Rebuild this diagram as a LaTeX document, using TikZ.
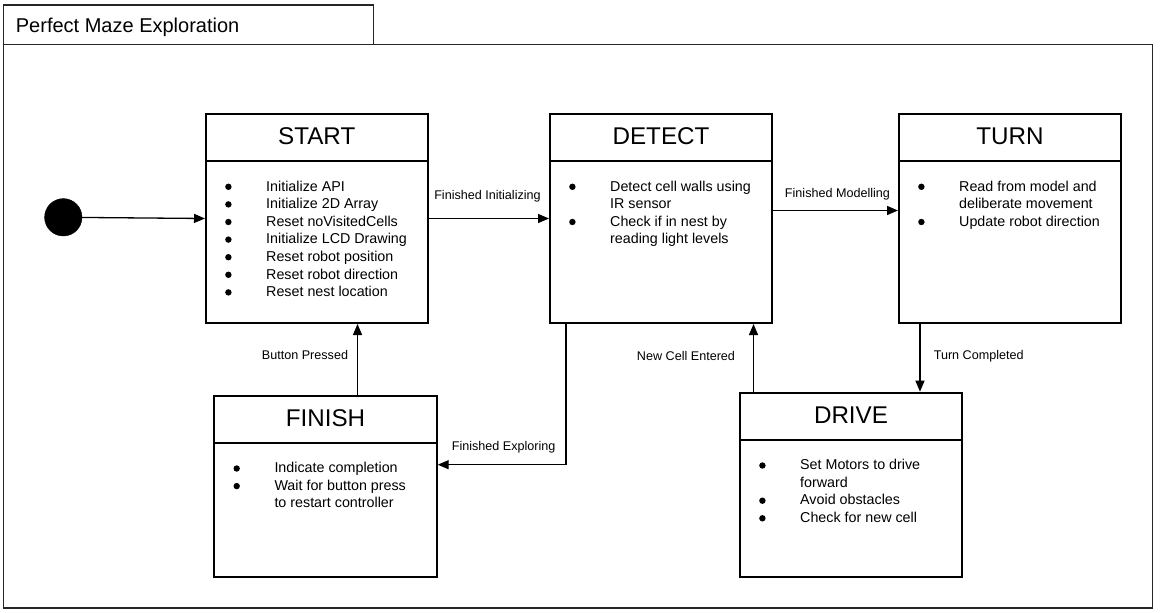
\documentclass[tikz,border=0pt]{standalone}
\usepackage{fontspec}
\setmainfont{Liberation Sans}
\usepackage{tikz}
\usetikzlibrary{arrows.meta}
\newcommand{\bul}{\tikz[baseline=-4.2pt]\fill[black] (3.2pt,0pt) circle[radius=3.2pt];}

\begin{document}
\begin{tikzpicture}[x=1pt,y=-1pt,
  statebox/.style={draw=black, line width=2pt, anchor=north west, inner sep=0pt},
  statetitle/.style={font=\fontsize{24.2}{29}\selectfont, inner sep=0pt},
  stateitems/.style={anchor=base west, inner sep=0pt, font=\fontsize{14.3}{17.6}\selectfont},
  translabel/.style={anchor=base, inner sep=0pt, font=\fontsize{12.6}{15}\selectfont},
  trans/.style={-{Triangle[length=11pt,width=9pt]}, line width=1.3pt}]
\useasboundingbox (0,0) rectangle (1160,613);
% frame
\draw[line width=1.6pt, black!85] (3.3,4.7) rectangle (373.3,44.3);
\draw[line width=1.6pt, black!85] (3.3,44.3) rectangle (1152.5,608);
\node[anchor=base west, inner sep=0pt, font=\fontsize{20}{24}\selectfont] (frametitle) at (15.7,32.3) {Perfect Maze Exploration};
% states
\node[statebox, minimum width=221.5pt, minimum height=209pt] (start) at (205,113) {};
\node[statebox, minimum width=222pt, minimum height=209pt] (detect) at (549,113) {};
\node[statebox, minimum width=222pt, minimum height=209pt] (turn) at (898,113) {};
\node[statebox, minimum width=222.4pt, minimum height=181pt] (finish) at (213.3,394.7) {};
\node[statebox, minimum width=222pt, minimum height=184pt] (drive) at (739,391.7) {};
\foreach \s in {start,detect,turn,finish,drive}
  \draw[line width=2pt] ([yshift=-48pt]\s.north west) -- ([yshift=-48pt]\s.north east);
\node[statetitle] (starttitle) at ([yshift=-23pt]start.north) {START};
\node[statetitle] (detecttitle) at ([yshift=-23pt]detect.north) {DETECT};
\node[statetitle] (turntitle) at ([yshift=-23pt]turn.north) {TURN};
\node[statetitle] (finishtitle) at ([yshift=-23pt]finish.north) {FINISH};
\node[statetitle] (drivetitle) at ([yshift=-23pt]drive.north) {DRIVE};
\node[stateitems] (startitems) at ([xshift=20pt,yshift=-78pt]start.north west) {\begin{tabular}[t]{@{}p{41pt}@{}l@{}}
\bul & Initialize API\\
\bul & Initialize 2D Array\\
\bul & Reset noVisitedCells\\
\bul & Initialize LCD Drawing\\
\bul & Reset robot position\\
\bul & Reset robot direction\\
\bul & Reset nest location
\end{tabular}};
\node[stateitems] (detectitems) at ([xshift=20pt,yshift=-78pt]detect.north west) {\begin{tabular}[t]{@{}p{41pt}@{}l@{}}
\bul & Detect cell walls using\\
 & IR sensor\\
\bul & Check if in nest by\\
 & reading light levels
\end{tabular}};
\node[stateitems] (turnitems) at ([xshift=20pt,yshift=-78pt]turn.north west) {\begin{tabular}[t]{@{}p{41pt}@{}l@{}}
\bul & Read from model and\\
 & deliberate movement\\
\bul & Update robot direction
\end{tabular}};
\node[stateitems] (finishitems) at ([xshift=20pt,yshift=-78pt]finish.north west) {\begin{tabular}[t]{@{}p{41pt}@{}l@{}}
\bul & Indicate completion\\
\bul & Wait for button press\\
 & to restart controller
\end{tabular}};
\node[stateitems] (driveitems) at ([xshift=20pt,yshift=-78pt]drive.north west) {\begin{tabular}[t]{@{}p{41pt}@{}l@{}}
\bul & Set Motors to drive\\
 & forward\\
\bul & Avoid obstacles\\
\bul & Check for new cell
\end{tabular}};
% initial state
\node[draw=black, fill=black, circle, minimum size=37.4pt, inner sep=0pt] (init) at (63.3,217.3) {};
% transitions
\draw[trans] (init) -- (start.west);
\draw[trans] (start.east) -- (detect.west);
\draw[trans] ([yshift=8pt]detect.east) -- ([yshift=8pt]turn.west);
\draw[trans] ([xshift=22pt]turn.south west) -- ([xshift=22pt]turn.south west |- drive.north);
\draw[trans] ([xshift=14.5pt]drive.north west) -- ([xshift=14.5pt]drive.north west |- detect.south);
\draw[trans] ([xshift=17pt]detect.south west) |- ([yshift=21.5pt]finish.east);
\draw[trans] ([xshift=32pt]finish.north) -- ([xshift=32pt]finish.north |- start.south);
\node[translabel] (lbinit) at (487.5,199.3) {Finished Initializing};
\node[translabel] (lbmodel) at (837.5,197.3) {Finished Modelling};
\node[translabel] (lbturn) at (978.7,359) {Turn Completed};
\node[translabel] (lbcell) at (686,360) {New Cell Entered};
\node[translabel] (lbexplore) at (503.7,450.7) {Finished Exploring};
\node[translabel] (lbbutton) at (305,359) {Button Pressed};
\end{tikzpicture}
\end{document}
